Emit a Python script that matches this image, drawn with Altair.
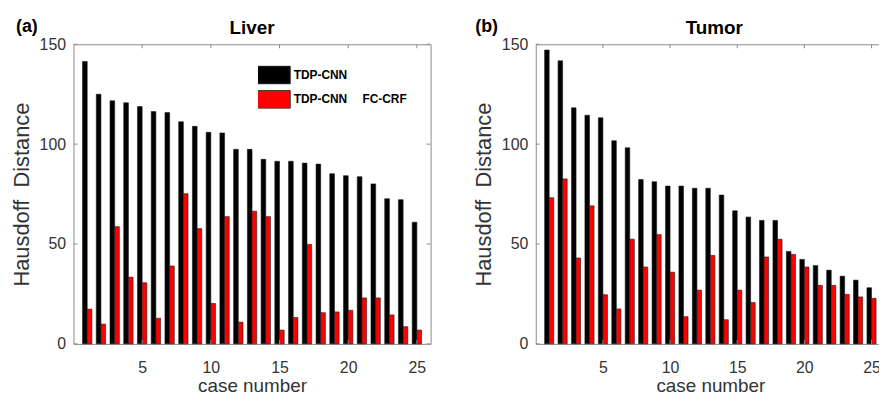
import altair as alt
import pandas as pd

cases = list(range(1, 26))
liver_tdp = [141.4, 125.0, 121.7, 120.7, 118.8, 116.3, 115.8, 111.2, 108.9, 105.9,
             105.6, 97.4, 97.4, 92.4, 91.4, 91.4, 90.5, 90.0, 85.2, 84.2,
             83.7, 80.1, 72.7, 72.2, 60.9]
liver_crf = [17.4, 9.9, 58.7, 33.4, 30.6, 12.8, 39.0, 75.2, 57.7, 20.2,
             63.7, 10.9, 66.4, 63.7, 6.9, 13.2, 49.8, 15.6, 16.0, 16.8,
             23.0, 23.0, 14.5, 8.6, 6.9]
tumor_tdp = [147.1, 141.7, 118.2, 114.5, 113.2, 101.7, 98.2, 82.3, 81.2, 79.0,
             79.0, 77.9, 77.9, 74.5, 66.6, 63.5, 61.8, 61.8, 46.3, 42.3,
             39.2, 36.9, 33.9, 31.9, 28.1]
tumor_crf = [73.2, 82.6, 43.0, 69.1, 24.6, 17.5, 52.4, 38.5, 54.7, 35.9,
             13.6, 26.9, 44.3, 12.1, 26.9, 20.7, 43.5, 52.4, 44.8, 38.5,
             29.3, 29.3, 24.8, 23.5, 22.8]
series_names = ["TDP-CNN", "TDP-CNN\u2002\u2002\u00a0FC-CRF"]
series_colors = ["#000000", "#ff0000"]
x_ticks = [5, 10, 15, 20, 25]
y_ticks = [0, 50, 100, 150]

FONT = "Liberation Sans"
GREY = "#8a8a8a"
H = 302


def long_df(a, b):
    rows = []
    for i, vals in enumerate([a, b]):
        for c, v in zip(cases, vals):
            rows.append({"case": c, "series": series_names[i], "idx": i, "value": v})
    return pd.DataFrame(rows)


XAXIS = alt.Axis(values=x_ticks, title="case number", tickSize=0, domain=False,
                 grid=False, labelPadding=16, labelFontSize=16, titleFontSize=19,
                 titlePadding=1, titleFontWeight="normal")
YAXIS = alt.Axis(values=y_ticks, title="Hausdoff\u00a0\u00a0Distance", tickSize=0,
                 domain=False, grid=False, labelPadding=8, labelFontSize=16,
                 titleFontSize=22, titlePadding=6, titleFontWeight="normal")


def panel(title, tag, tag_x, a, b, leg_x, leg_y, W):
    df = long_df(a, b)
    xscale = alt.Scale(domain=[0, 26], nice=False, zero=False)
    yscale = alt.Scale(domain=[0, 150], nice=False)
    bars = alt.Chart(df).transform_calculate(
        x0="datum.case - (datum.idx == 0 ? 0.34 : 0)",
        x1="datum.case + (datum.idx == 1 ? 0.34 : 0)",
    ).mark_rect(stroke="#1a1a1a", strokeWidth=0.6).encode(
        x=alt.X("x0:Q", scale=xscale, axis=XAXIS),
        x2="x1:Q",
        y=alt.Y("value:Q", scale=yscale, axis=YAXIS),
        y2=alt.datum(0),
        color=alt.Color("series:N",
                        scale=alt.Scale(domain=series_names, range=series_colors),
                        legend=alt.Legend(orient="none", legendX=leg_x, legendY=leg_y, title=None,
                                          symbolType="M-1.133,-0.6H1.133V0.6H-1.133Z",
                                          symbolSize=900, clipHeight=19,
                                          symbolStrokeColor="#333333", symbolStrokeWidth=1,
                                          symbolOpacity=1, labelFont=FONT, labelFontWeight="bold",
                                          labelFontSize=12, labelColor="black", labelOffset=5,
                                          rowPadding=5.5, padding=0)),
    )
    xt = pd.DataFrame({"t": x_ticks})
    yt = pd.DataFrame({"t": y_ticks})
    tick_bottom = alt.Chart(xt).mark_rule(color=GREY).encode(
        x=alt.X("t:Q", scale=xscale, axis=XAXIS), y=alt.value(H), y2=alt.value(H - 4))
    tick_top = alt.Chart(xt).mark_rule(color=GREY).encode(
        x=alt.X("t:Q", scale=xscale, axis=XAXIS), y=alt.value(0), y2=alt.value(4))
    tick_left = alt.Chart(yt).mark_rule(color=GREY).encode(
        y=alt.Y("t:Q", scale=yscale, axis=YAXIS), x=alt.value(0), x2=alt.value(4))
    tick_right = alt.Chart(yt).mark_rule(color=GREY).encode(
        y=alt.Y("t:Q", scale=yscale, axis=YAXIS), x=alt.value(W), x2=alt.value(W - 4))
    tag_txt = alt.Chart(pd.DataFrame({"tag": [tag]})).mark_text(
        font=FONT, fontSize=18, fontWeight="bold", align="left", baseline="alphabetic",
        color="black").encode(text="tag:N", x=alt.value(tag_x), y=alt.value(-12))
    title_txt = alt.Chart(pd.DataFrame({"title": [title]})).mark_text(
        font=FONT, fontSize=19, fontWeight="bold", align="center", baseline="alphabetic",
        color="black").encode(text="title:N", x=alt.value(360 / 2), y=alt.value(-10))
    return alt.layer(bars, tick_bottom, tick_top, tick_left, tick_right, tag_txt,
                     title_txt).properties(width=W, height=H)


left = panel("Liver", "(a)", -58, liver_tdp, liver_crf, 186, 21.5, 360)
right = panel("Tumor", "(b)", -61, tumor_tdp, tumor_crf, 182, 14, 352)

chart = alt.hconcat(left, right, spacing=40).properties(
    padding={"left": 1, "top": 8, "right": -7, "bottom": 0}
).configure_view(stroke=GREY, strokeWidth=1).configure_axis(
    labelFont=FONT, titleFont=FONT, labelColor="#333333", titleColor="#333333"
)

chart.save("out.html", embed_options={"renderer": "svg", "actions": False})
